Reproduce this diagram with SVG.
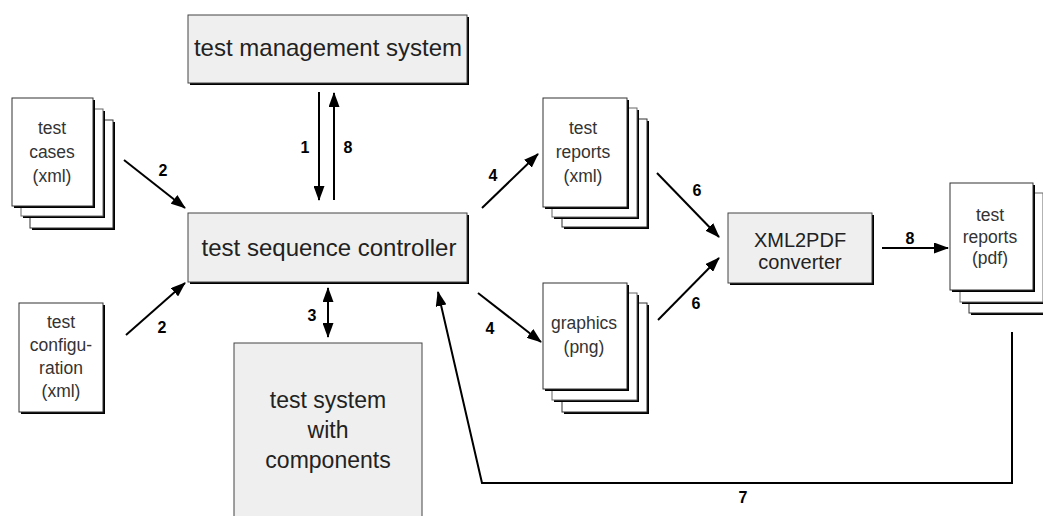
<svg xmlns="http://www.w3.org/2000/svg" width="1043" height="516" viewBox="0 0 1043 516">
<style>
.box{fill:#efefef;stroke:#444;stroke-width:1}
.shadow{fill:#000}
.page{fill:#fff;stroke:#333;stroke-width:1}
.pt{font-family:"Liberation Sans",Arial,sans-serif;font-size:17.5px;fill:#333;text-anchor:middle}
.bt{font-family:"Liberation Sans",Arial,sans-serif;font-size:24px;fill:#222;text-anchor:middle}
.ct{font-family:"Liberation Sans",Arial,sans-serif;font-size:20px;fill:#222;text-anchor:middle}
.lbl{font-family:"Liberation Sans",Arial,sans-serif;font-size:16px;font-weight:bold;fill:#000;text-anchor:middle}
.ln{fill:none;stroke:#000;stroke-width:2}
</style>
<defs>
<marker id="ah" markerUnits="userSpaceOnUse" markerWidth="15" markerHeight="11" refX="14" refY="5.5" orient="auto-start-reverse">
<path d="M0,0 L15,5.5 L0,11 z" fill="#000"/>
</marker>
</defs>
<rect width="1043" height="516" fill="#fff"/>

<g id="test-management-system">
<rect class="shadow" x="190" y="17" width="279" height="68"/>
<rect class="box" x="188" y="15" width="279" height="68"/>
<text class="bt" x="328" y="56">test management system</text>
</g>

<g id="test-sequence-controller">
<rect class="shadow" x="190" y="215" width="279" height="69"/>
<rect class="box" x="188" y="213" width="279" height="69"/>
<text class="bt" x="329" y="256">test sequence controller</text>
</g>

<g id="test-system">
<rect class="box" x="234" y="343" width="188" height="190"/>
<text class="bt" x="328" y="408" style="font-size:23px">test system</text>
<text class="bt" x="328" y="438" style="font-size:23px">with</text>
<text class="bt" x="328" y="468" style="font-size:23px">components</text>
</g>

<g id="xml2pdf-converter">
<rect class="shadow" x="730" y="215" width="144" height="70"/>
<rect class="box" x="728" y="213" width="144" height="70"/>
<text class="ct" x="800" y="247">XML2PDF</text>
<text class="ct" x="800" y="269">converter</text>
</g>

<g id="test-cases">
<rect class="shadow" x="32" y="122" width="83" height="108"/>
<rect class="page" x="30" y="120" width="83" height="108"/>
<rect class="shadow" x="23" y="111" width="82" height="107"/>
<rect class="page" x="21" y="109" width="82" height="107" style="stroke:#666"/>
<rect class="shadow" x="14" y="100" width="81" height="108"/>
<rect class="page" x="12" y="98" width="81" height="108"/>
<text class="pt" x="52" y="134">test</text>
<text class="pt" x="52" y="158">cases</text>
<text class="pt" x="52" y="182">(xml)</text>
</g>

<g id="test-configuration">
<rect class="shadow" x="21" y="305" width="84" height="109"/>
<rect class="page" x="19" y="303" width="84" height="109"/>
<text class="pt" x="61" y="328">test</text>
<text class="pt" x="61" y="351">configu-</text>
<text class="pt" x="61" y="374">ration</text>
<text class="pt" x="61" y="397">(xml)</text>
</g>

<g id="test-reports-xml">
<rect class="shadow" x="564" y="121" width="85" height="108"/>
<rect class="page" x="562" y="119" width="85" height="108"/>
<rect class="shadow" x="554" y="110" width="85" height="109"/>
<rect class="page" x="552" y="108" width="85" height="109" style="stroke:#666"/>
<rect class="shadow" x="545" y="100" width="84" height="109"/>
<rect class="page" x="543" y="98" width="84" height="109"/>
<text class="pt" x="583" y="134">test</text>
<text class="pt" x="583" y="158">reports</text>
<text class="pt" x="583" y="182">(xml)</text>
</g>

<g id="graphics-png">
<rect class="shadow" x="564" y="305" width="85" height="109"/>
<rect class="page" x="562" y="303" width="85" height="109"/>
<rect class="shadow" x="554" y="295" width="85" height="107"/>
<rect class="page" x="552" y="293" width="85" height="107" style="stroke:#666"/>
<rect class="shadow" x="545" y="285" width="84" height="106"/>
<rect class="page" x="543" y="283" width="84" height="106"/>
<text class="pt" x="584" y="329">graphics</text>
<text class="pt" x="584" y="353">(png)</text>
</g>

<g id="test-reports-pdf">
<rect class="shadow" x="971" y="205" width="83" height="110"/>
<rect class="page" x="969" y="203" width="83" height="110"/>
<rect class="shadow" x="962" y="195" width="83" height="109"/>
<rect class="page" x="960" y="193" width="83" height="109" style="stroke:#666"/>
<rect class="shadow" x="952" y="185" width="83" height="107"/>
<rect class="page" x="950" y="183" width="83" height="107"/>
<text class="pt" x="990" y="221">test</text>
<text class="pt" x="990" y="243">reports</text>
<text class="pt" x="990" y="264">(pdf)</text>
</g>

<g id="connectors">
<line class="ln" x1="124" y1="160" x2="185" y2="208" marker-end="url(#ah)"/>
<line class="ln" x1="126" y1="335" x2="185" y2="283" marker-end="url(#ah)"/>
<line class="ln" x1="319" y1="92" x2="319" y2="200" marker-end="url(#ah)"/>
<line class="ln" x1="334" y1="200" x2="334" y2="93" marker-end="url(#ah)"/>
<line class="ln" x1="328" y1="288" x2="328" y2="337" marker-start="url(#ah)" marker-end="url(#ah)"/>
<line class="ln" x1="482" y1="208" x2="538" y2="154" marker-end="url(#ah)"/>
<line class="ln" x1="478" y1="293" x2="541" y2="342" marker-end="url(#ah)"/>
<line class="ln" x1="657" y1="173" x2="719" y2="237" marker-end="url(#ah)"/>
<line class="ln" x1="658" y1="320" x2="719" y2="258" marker-end="url(#ah)"/>
<line class="ln" x1="882" y1="248" x2="948" y2="248" marker-end="url(#ah)"/>
<polyline class="ln" points="1012,332 1012,483 482,483 438,292" marker-end="url(#ah)"/>
<text class="lbl" x="163" y="176">2</text>
<text class="lbl" x="162" y="333">2</text>
<text class="lbl" x="305" y="153">1</text>
<text class="lbl" x="348" y="153">8</text>
<text class="lbl" x="312" y="321">3</text>
<text class="lbl" x="493" y="181">4</text>
<text class="lbl" x="490" y="334">4</text>
<text class="lbl" x="697" y="196">6</text>
<text class="lbl" x="696" y="309">6</text>
<text class="lbl" x="910" y="244">8</text>
<text class="lbl" x="743" y="503">7</text>
</g>
</svg>
